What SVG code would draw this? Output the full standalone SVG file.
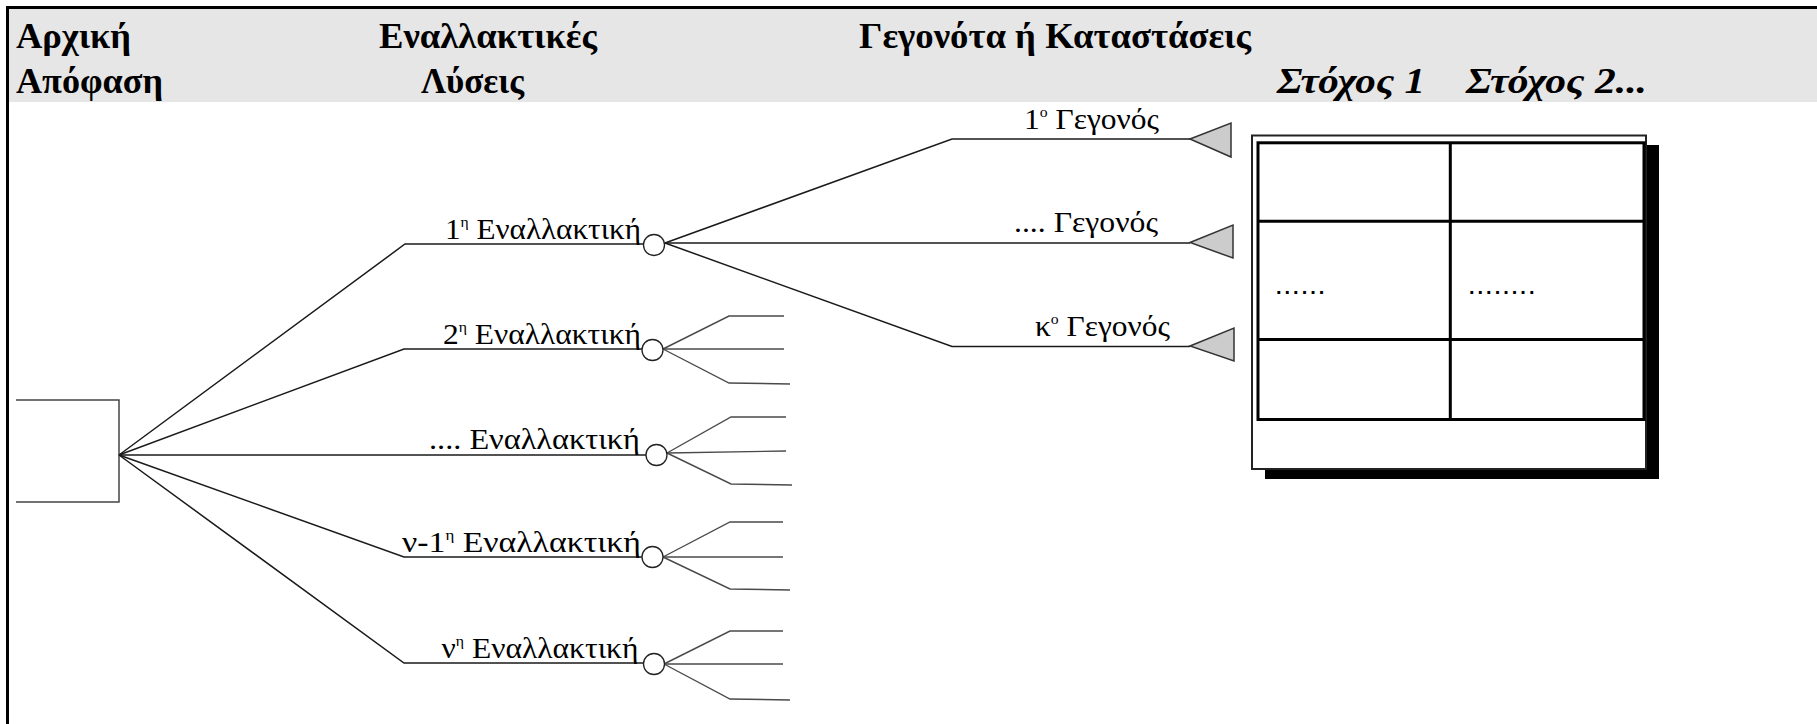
<svg xmlns="http://www.w3.org/2000/svg" width="1817" height="724" viewBox="0 0 1817 724">
<style>
.hdr{font-family:"Liberation Serif","DejaVu Serif",serif;font-weight:bold;font-size:36px;fill:#000}
.hdi{font-style:italic}
.lbl{font-family:"Liberation Serif","DejaVu Serif",serif;font-size:30px;fill:#000}
.sup{font-size:15px}
.ln{fill:none;stroke:#1a1a1a;stroke-width:1.5}
.stub{fill:none;stroke:#4a4a4a;stroke-width:1.4}
.chance{fill:#fff;stroke:#222;stroke-width:1.3}
.tri{fill:#cccccc;stroke:#333;stroke-width:1.5}
.grid{fill:none;stroke:#000;stroke-width:3}
.dots{font-family:"Liberation Sans",Arial,sans-serif;font-weight:bold;font-size:20px;letter-spacing:3px;fill:#000}
</style>
<rect x="0" y="0" width="1817" height="724" fill="#fff"/>
<g id="header">
<rect x="9" y="9" width="1808" height="93" fill="#e6e6e6"/>
<line x1="6" y1="7.5" x2="1817" y2="7.5" stroke="#000" stroke-width="3"/>
<line x1="7.5" y1="6" x2="7.5" y2="724" stroke="#000" stroke-width="3"/>
<text class="hdr" x="16" y="47.5" textLength="115" lengthAdjust="spacingAndGlyphs">Αρχική</text>
<text class="hdr" x="16" y="92.5" textLength="147" lengthAdjust="spacingAndGlyphs">Απόφαση</text>
<text class="hdr" x="379" y="47.5" textLength="218" lengthAdjust="spacingAndGlyphs">Εναλλακτικές</text>
<text class="hdr" x="421" y="92.5" textLength="103" lengthAdjust="spacingAndGlyphs">Λύσεις</text>
<text class="hdr" x="859" y="47.5" textLength="392" lengthAdjust="spacingAndGlyphs">Γεγονότα ή Καταστάσεις</text>
<text class="hdr hdi" x="1277" y="92.5" textLength="148" lengthAdjust="spacingAndGlyphs">Στόχος 1</text>
<text class="hdr hdi" x="1466" y="92.5" textLength="181" lengthAdjust="spacingAndGlyphs">Στόχος 2...</text>
</g>
<g id="decision">
<path d="M16,400 H119 V502 H16" fill="none" stroke="#444" stroke-width="1.5"/>
</g>
<g id="connectors">
<path class="ln" d="M119,455 L405,244 H643.5"/>
<path class="ln" d="M119,455 L404,349 H642"/>
<path class="ln" d="M119,455 H646"/>
<path class="ln" d="M119,455 L404,557 H642"/>
<path class="ln" d="M119,455 L404,663 H643.5"/>
<path class="ln" d="M665,243 L952,139 H1190"/>
<path class="ln" d="M665,243 H1190"/>
<path class="ln" d="M665,243 L952,346.5 H1190"/>
<path class="stub" d="M663,349 L729,316 H784"/>
<path class="stub" d="M663,349 H784"/>
<path class="stub" d="M663,349 L729,383 L790,384"/>
<path class="stub" d="M667,453 L731,417 H786"/>
<path class="stub" d="M667,453 L786,451"/>
<path class="stub" d="M667,453 L731,484 L792,485"/>
<path class="stub" d="M663,557 L730,522 H783"/>
<path class="stub" d="M663,557 H783"/>
<path class="stub" d="M663,557 L730,589 L790,590"/>
<path class="stub" d="M664,664 L730,631 H783"/>
<path class="stub" d="M664,664 H783"/>
<path class="stub" d="M664,664 L730,699 L790,700"/>
</g>
<g id="alt1">
<circle class="chance" cx="654" cy="245" r="10.5"/>
<text class="lbl" x="445" y="239" textLength="196" lengthAdjust="spacingAndGlyphs">1<tspan class="sup" dy="-12">η</tspan><tspan dy="12"> Εναλλακτική</tspan></text>
</g>
<g id="alt2">
<circle class="chance" cx="652.5" cy="350" r="10.5"/>
<text class="lbl" x="443" y="344" textLength="198" lengthAdjust="spacingAndGlyphs">2<tspan class="sup" dy="-12">η</tspan><tspan dy="12"> Εναλλακτική</tspan></text>
</g>
<g id="alt3">
<circle class="chance" cx="656.5" cy="455" r="10.5"/>
<text class="lbl" x="429" y="449" textLength="211" lengthAdjust="spacingAndGlyphs">.... Εναλλακτική</text>
</g>
<g id="alt4">
<circle class="chance" cx="652.5" cy="557" r="10.5"/>
<text class="lbl" x="402" y="552" textLength="239" lengthAdjust="spacingAndGlyphs">ν-1<tspan class="sup" dy="-12">η</tspan><tspan dy="12"> Εναλλακτική</tspan></text>
</g>
<g id="alt5">
<circle class="chance" cx="654" cy="664" r="10.5"/>
<text class="lbl" x="441.5" y="658" textLength="197" lengthAdjust="spacingAndGlyphs">ν<tspan class="sup" dy="-12">η</tspan><tspan dy="12"> Εναλλακτική</tspan></text>
</g>
<g id="event1">
<polygon class="tri" points="1190,139 1231,123 1231,157"/>
<text class="lbl" x="1024" y="129" textLength="135" lengthAdjust="spacingAndGlyphs">1<tspan class="sup" dy="-12">ο</tspan><tspan dy="12"> Γεγονός</tspan></text>
</g>
<g id="event2">
<polygon class="tri" points="1190,242.5 1233,225 1233,258"/>
<text class="lbl" x="1014" y="232" textLength="144" lengthAdjust="spacingAndGlyphs">.... Γεγονός</text>
</g>
<g id="event3">
<polygon class="tri" points="1190,346 1234,328 1234,361"/>
<text class="lbl" x="1035" y="336" textLength="135" lengthAdjust="spacingAndGlyphs">κ<tspan class="sup" dy="-12">ο</tspan><tspan dy="12"> Γεγονός</tspan></text>
</g>
<g id="payoff-table">
<rect x="1265" y="145" width="394" height="334" fill="#000"/>
<rect x="1252" y="135.5" width="394" height="333.5" fill="#fff" stroke="#222" stroke-width="2"/>
<rect class="grid" x="1258" y="142.8" width="386" height="276.7"/>
<line class="grid" x1="1450.3" y1="142.8" x2="1450.3" y2="419.5"/>
<line class="grid" x1="1258" y1="221.2" x2="1644" y2="221.2"/>
<line class="grid" x1="1258" y1="339.5" x2="1644" y2="339.5"/>
<text class="dots" x="1276" y="294">......</text>
<text class="dots" x="1469" y="294">........</text>
</g>
</svg>
